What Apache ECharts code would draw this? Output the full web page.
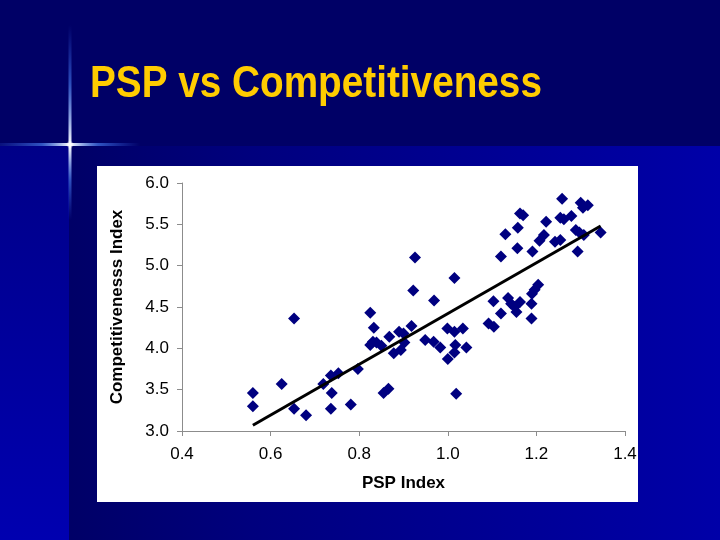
<!DOCTYPE html>
<html>
<head>
<meta charset="utf-8">
<script src="https://cdn.jsdelivr.net/npm/echarts@6/dist/echarts.min.js"></script>
<style>
html,body{margin:0;padding:0;background:#000066;}
#main{width:720px;height:540px;}
</style>
</head>
<body>
<div id="main"></div>
<script>
// ---- data ----
var pspIndex = [0.56,0.56,0.625,0.653,0.653,0.68,0.719,0.736,0.738,0.736,0.753,0.797,0.781,0.825,0.833,0.825,0.831,0.839,0.85,0.855,0.866,0.868,0.878,0.89,0.894,0.902,0.9,0.918,0.926,0.922,0.949,0.968,0.969,0.983,0.999,1.0,1.015,1.015,1.017,1.015,1.019,1.034,1.042,1.092,1.104,1.103,1.12,1.12,1.13,1.136,1.143,1.151,1.155,1.163,1.157,1.158,1.163,1.17,1.189,1.189,1.19,1.196,1.204,1.191,1.207,1.217,1.222,1.242,1.254,1.254,1.258,1.262,1.279,1.289,1.293,1.297,1.3,1.305,1.316,1.307,1.345];
var compIndex = [3.46,3.30,3.57,4.36,3.27,3.19,3.57,3.67,3.46,3.27,3.70,3.75,3.32,4.43,4.25,4.04,4.08,4.07,4.03,3.46,3.51,4.14,3.94,4.20,3.98,4.07,4.18,4.27,5.10,4.70,4.10,4.08,4.58,4.01,4.24,3.87,4.85,4.20,4.04,3.95,3.45,4.24,4.01,4.30,4.26,4.57,4.42,5.11,5.38,4.61,4.54,4.50,4.44,4.56,5.21,5.46,5.63,5.61,4.36,4.54,4.66,4.71,4.77,5.17,5.30,5.37,5.53,5.29,5.31,5.58,5.81,5.56,5.60,5.43,5.17,5.40,5.76,5.70,5.73,5.37,5.40];
var trendX = [0.56, 1.345];
var trendY = [3.07, 5.48];
var xAxisTitle = 'PSP Index';
var yAxisTitle = 'Competitivenesss Index';
var chartTitle = 'PSP vs Competitiveness';

var points = pspIndex.map(function(x, i){ return [x, compIndex[i]]; });
var trend = trendX.map(function(x, i){ return [x, trendY[i]]; });

var chart = echarts.init(document.getElementById('main'), null, {renderer:'canvas'});
var font = '"Liberation Sans", Arial, sans-serif';

chart.setOption({
  animation: false,
  backgroundColor: '#000066',
  graphic: [
    // lower blue band
    {type:'rect', z:-100, silent:true, shape:{x:0,y:146,width:720,height:394},
     style:{fill:new echarts.graphic.LinearGradient(0,0,1,0,[
       {offset:0,color:'#00005e'},{offset:0.35,color:'#00007e'},{offset:1,color:'#0000a8'}])}},
    {type:'rect', z:-99, silent:true, shape:{x:0,y:146,width:69,height:394},
     style:{fill:new echarts.graphic.LinearGradient(0,0,0,1,[
       {offset:0,color:'#000088'},{offset:1,color:'#0000b0'}])}},
    // top band
    {type:'rect', z:-98, silent:true, shape:{x:0,y:0,width:720,height:146},
     style:{fill:'#000066'}},
    // flare
    {type:'rect', z:-90, silent:true, shape:{x:0,y:143,width:140,height:3},
     style:{fill:new echarts.graphic.LinearGradient(0,0,1,0,[
       {offset:0,color:'rgba(60,110,255,0.15)'},{offset:0.3,color:'rgba(80,140,255,0.6)'},{offset:0.5,color:'rgba(255,255,255,1)'},{offset:0.7,color:'rgba(80,140,255,0.6)'},{offset:1,color:'rgba(60,110,255,0)'}])}},
    {type:'rect', z:-90, silent:true, shape:{x:68.5,y:25,width:3,height:195},
     style:{fill:new echarts.graphic.LinearGradient(0,0,0,1,[
       {offset:0,color:'rgba(60,110,255,0)'},{offset:0.3,color:'rgba(80,140,255,0.55)'},{offset:0.62,color:'rgba(255,255,255,1)'},{offset:0.8,color:'rgba(80,140,255,0.55)'},{offset:1,color:'rgba(60,110,255,0)'}])}},
    {type:'circle', z:-89, silent:true, shape:{cx:70,cy:144.5,r:4},
     style:{fill:new echarts.graphic.RadialGradient(0.5,0.5,0.5,[
       {offset:0,color:'rgba(255,255,255,1)'},{offset:1,color:'rgba(255,255,255,0)'}])}},
    // white chart box
    {type:'rect', z:-80, silent:true, shape:{x:97,y:166,width:541,height:336},
     style:{fill:'#ffffff'}},
    // title
    {type:'text', z:10, x:90, y:85, scaleX:0.88, scaleY:1, silent:true,
     style:{x:0, y:0, text:chartTitle, fill:'#ffcc00', align:'left', verticalAlign:'middle',
       font:'bold 44px "Liberation Sans", Arial, sans-serif'}}
  ],
  grid: {left:182, right:95, top:183, bottom:109, containLabel:false},
  xAxis: {
    type:'value', min:0.4, max:1.4, interval:0.2,
    name:xAxisTitle, nameLocation:'middle', nameGap:44,
    nameTextStyle:{color:'#000', fontSize:17, fontWeight:'bold', fontFamily:font},
    axisLine:{show:true, lineStyle:{color:'#8c8c8c', width:1}},
    axisTick:{show:true, inside:false, length:5, lineStyle:{color:'#8c8c8c'}},
    axisLabel:{color:'#000', fontSize:17, fontFamily:font, margin:15,
      formatter:function(v){return v.toFixed(1);}},
    splitLine:{show:false}
  },
  yAxis: {
    type:'value', min:3, max:6, interval:0.5,
    name:yAxisTitle, nameLocation:'middle', nameGap:56, nameRotate:90,
    nameTextStyle:{color:'#000', fontSize:17, fontWeight:'bold', fontFamily:font},
    axisLine:{show:true, lineStyle:{color:'#8c8c8c', width:1}},
    axisTick:{show:true, inside:false, length:5, lineStyle:{color:'#8c8c8c'}},
    axisLabel:{color:'#000', fontSize:17, fontFamily:font, margin:13,
      formatter:function(v){return v.toFixed(1);}},
    splitLine:{show:false}
  },
  series: [
    {type:'scatter', data:points, symbol:'diamond', symbolSize:12,
     itemStyle:{color:'#000080', opacity:1}, z:3},
    {type:'line', data:trend, symbol:'none', lineStyle:{color:'#000', width:3}, z:4}
  ]
});
</script>
</body>
</html>
